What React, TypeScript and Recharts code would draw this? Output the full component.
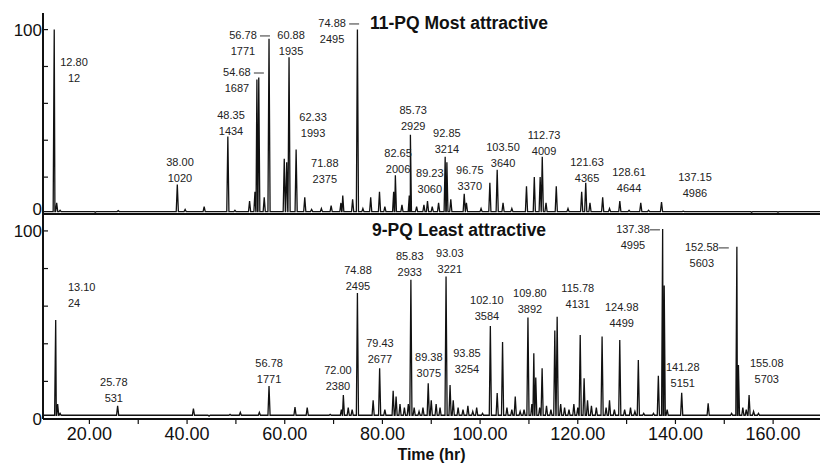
import React from "react";
import {
  ComposedChart,
  Line,
  Scatter,
  XAxis,
  YAxis,
  Label,
} from "recharts";

// peak retention times (hr) and relative abundance (%)
const topPeakTimes = [
  12.72, 12.8, 13.3, 14.0, 21.2, 25.9, 35.1, 38.0, 39.6, 43.5, 48.35, 49.8,
  52.8, 53.9, 54.3, 54.68, 55.8, 56.78, 59.9, 60.4, 60.88, 62.33, 64.1, 65.5,
  67.5, 69.5, 71.5, 71.88, 73.9, 74.88, 76.0, 77.6, 79.4, 80.5, 82.3, 82.65,
  84.0, 85.5, 85.73, 87.0, 88.5, 89.23, 90.2, 91.5, 92.85, 93.2, 94.0, 96.75,
  97.2, 100.2, 102.0, 103.5, 104.7, 106.5, 109.5, 111.1, 112.3, 112.73, 113.5,
  115.6, 118.0, 120.8, 121.63, 122.5, 125.1, 126.5, 128.61, 130.5, 132.9,
  134.5, 137.15, 141.6, 155.6, 161.0,
];
const topPeakHeights = [
  66, 100, 6, 2, 1, 1.8, 1.3, 16, 2.5, 4, 42, 2,
  7, 12, 73, 74, 9, 95, 30, 28, 85, 35, 9, 2.5,
  3, 4.5, 6, 10, 8, 100, 3, 9, 12, 4, 12, 21,
  5, 10, 43, 4, 5, 7, 4, 6, 31, 28, 8, 11,
  6, 3, 17, 24, 6, 3, 15, 20, 20, 31, 6,
  15, 3, 12, 17, 6, 9, 3, 7, 2, 6,
  2, 6.5, 1.5, 1, 1,
];

const bottomPeakTimes = [
  13.0, 13.1, 13.5, 14.0, 15.4, 25.78, 41.3, 44.5, 48.8, 50.9, 54.8, 56.78,
  62.1, 64.6, 69.3, 71.6, 72.0, 73.0, 73.8, 74.88, 78.1, 79.43, 80.5, 82.2,
  82.8, 83.6, 84.5, 85.3, 85.83, 86.5, 87.5, 88.3, 89.38, 90.0, 91.0, 91.8,
  93.03, 93.85, 94.5, 95.5, 96.5, 97.5, 98.5, 99.3, 100.5, 102.1, 103.5, 104.6,
  105.5, 106.5, 107.2, 108.2, 109.0, 109.8, 110.6, 111.0, 111.4, 112.2, 112.7,
  113.6, 114.5, 115.3, 115.78, 116.5, 117.3, 118.2, 119.2, 120.0, 120.5, 121.3,
  122.0, 122.8, 123.8, 124.98, 125.8, 126.5, 127.5, 128.6, 129.6, 130.8, 131.7,
  132.4, 133.5, 135.5, 136.5, 137.38, 137.7, 138.3, 139.5, 141.28, 143.5, 145.0,
  146.7, 149.5, 151.5, 152.58, 152.9, 153.8, 154.5, 155.08, 156.0, 157.0, 158.5,
  162.0,
];
const bottomPeakHeights = [
  30, 52.7, 8, 3, 2, 7, 5.5, 1.5, 2.5, 3.5, 3.5, 17.5,
  6.4, 6, 2.5, 5, 12.8, 6, 5, 67, 10, 27, 5, 15,
  12, 8, 6, 8, 74, 6, 4, 6, 19, 10, 8, 6,
  75.7, 18, 10, 6, 5, 7, 4, 6, 3, 49.5, 13.8, 41,
  6, 5, 12, 4, 5, 54, 8, 35, 22, 6, 27,
  7, 5, 47, 54.4, 8, 6, 5, 8, 6, 44.7, 21.6,
  10, 7, 6, 43.8, 6, 10, 5, 42, 5, 6, 4,
  31.4, 3, 3, 23, 101, 71, 5, 2, 14, 2, 2,
  8.3, 2, 3, 91.6, 28.7, 6, 5, 12.8, 4, 3, 2,
  2,
];

// peak annotations: retention time / scan number
const topLabelTimes = [
  "12.80", "38.00", "48.35", "54.68", "56.78", "60.88", "74.88", "62.33",
  "71.88", "82.65", "85.73", "92.85", "89.23", "96.75", "103.50", "112.73",
  "121.63", "128.61", "137.15",
];
const topLabelScans = [
  "12", "1020", "1434", "1687", "1771", "1935", "2495", "1993",
  "2375", "2006", "2929", "3214", "3060", "3370", "3640", "4009",
  "4365", "4644", "4986",
];
const bottomLabelTimes = [
  "13.10", "25.78", "56.78", "72.00", "74.88", "79.43", "85.83", "93.03",
  "89.38", "93.85", "102.10", "109.80", "115.78", "124.98", "137.38",
  "152.58", "141.28", "155.08",
];
const bottomLabelScans = [
  "24", "531", "1771", "2380", "2495", "2677", "2933", "3221",
  "3075", "3254", "3584", "3892", "4131", "4499", "4995",
  "5603", "5151", "5703",
];

// where each annotation sits, in chart units (hr, %)
const topLabelSpots = [
  [16.85, 82.4], [38.55, 28.2], [49.0, 53.7], [50.2, 77.0], [51.45, 97.1],
  [61.3, 97.1], [69.7, 103.6], [65.8, 52.6], [68.2, 27.7], [83.2, 33.1],
  [86.3, 56.4], [93.2, 43.9], [89.7, 22.2], [97.9, 23.9], [104.7, 36.3],
  [113.1, 42.8], [121.9, 28.2], [130.5, 22.8], [144.0, 20.1],
];
const topLeaders = ["54.68", "56.78", "74.88"];
const bottomLabelSpots = [
  [15.6, 70.2], [25.0, 19.7], [56.8, 29.8], [70.9, 26.1], [75.0, 79.3],
  [79.5, 40.4], [85.6, 86.7], [93.8, 88.3], [89.5, 33.0], [97.3, 35.1],
  [101.4, 63.3], [110.2, 67.0], [120.0, 69.7], [129.0, 59.6], [131.3, 101.1],
  [145.4, 91.5], [141.5, 27.7], [158.7, 29.8],
];
const bottomLeaders = ["137.38", "152.58"];

const xTicks = [20, 30, 40, 50, 60, 70, 80, 90, 100, 110, 120, 130, 140, 150, 160];
const yTicks = [0, 10, 20, 30, 40, 50, 60, 70, 80, 90, 100];

const X_DOMAIN: [number, number] = [10.5, 169.6];
const Y_DOMAIN: [number, number] = [0, 109];
const HALF = 0.22;
const FONT = "'Liberation Sans', Arial, Helvetica, sans-serif";

function buildTrace(times: number[], heights: number[], base: number) {
  const pts = [{ t: X_DOMAIN[0] + 0.1, v: base }, { t: X_DOMAIN[1], v: base }];
  times.forEach((t, i) => {
    pts.push({ t: t - HALF, v: base }, { t, v: heights[i] }, { t: t + HALF, v: base });
  });
  return pts.sort((a, b) => a.t - b.t);
}

function buildLabels(times: string[], scans: string[], spots: number[][], leaders: string[]) {
  return times.map((a, i) => ({
    t: spots[i][0],
    v: spots[i][1],
    a,
    b: scans[i],
    lead: leaders.includes(a),
    start: a === "13.10",
  }));
}

const topTrace = buildTrace(topPeakTimes, topPeakHeights, 1.3);
const bottomTrace = buildTrace(bottomPeakTimes, bottomPeakHeights, 2);
const topLabels = buildLabels(topLabelTimes, topLabelScans, topLabelSpots, topLeaders);
const bottomLabels = buildLabels(bottomLabelTimes, bottomLabelScans, bottomLabelSpots, bottomLeaders);

function PeakLabel(props: any) {
  const { cx, cy, payload } = props;
  if (cx == null || cy == null) return null;
  const anchor = payload.start ? "start" : "middle";
  return (
    <g fontFamily={FONT} fontSize={11} fill="#222">
      <text x={cx} y={cy} dy="0.35em" textAnchor={anchor}>
        {payload.a}
      </text>
      <text x={cx} y={cy + 16} dy="0.35em" textAnchor={anchor}>
        {payload.b}
      </text>
      {payload.lead && (
        <line x1={cx + 17} x2={cx + 27} y1={cy + 1} y2={cy + 1} stroke="#333" strokeWidth={1} />
      )}
    </g>
  );
}

function YTick(props: any) {
  const { x, y, payload, raiseZero } = props;
  const v = payload.value;
  const shift = raiseZero && v === 0 ? -5 : 0;
  return (
    <g>
      <line x1={x} x2={x + 5} y1={y} y2={y} stroke="#111" strokeWidth={1.2} />
      {v % 50 === 0 && (
        <text
          x={x - 1}
          y={y + shift}
          dy="0.36em"
          textAnchor="end"
          fontSize={17}
          fontFamily={FONT}
          fill="#111"
        >
          {v}
        </text>
      )}
    </g>
  );
}

function XTick(props: any) {
  const { x, y, payload } = props;
  const v = payload.value;
  if (v % 20 !== 0) return null;
  return (
    <text x={x} y={y} dy="0.71em" textAnchor="middle" fontSize={18} fontFamily={FONT} fill="#111">
      {v.toFixed(2)}
    </text>
  );
}

function Panel({
  trace,
  labels,
  height,
  showTicks,
}: {
  trace: { t: number; v: number }[];
  labels: any[];
  height: number;
  showTicks: boolean;
}) {
  return (
    <ComposedChart
      width={820}
      height={height}
      data={trace}
      margin={{ top: showTicks ? 0 : 13, right: 0, bottom: 0, left: 0 }}
    >
      {!showTicks && (
        <XAxis
          xAxisId="frame"
          orientation="top"
          type="number"
          domain={X_DOMAIN}
          height={0}
          tick={false}
          tickLine={false}
          axisLine={{ stroke: "#111", strokeWidth: 2 }}
        />
      )}
      <XAxis
        dataKey="t"
        type="number"
        domain={X_DOMAIN}
        ticks={xTicks}
        allowDataOverflow
        height={showTicks ? 45 : 10}
        tickSize={5}
        tickMargin={3}
        tickLine={{ stroke: "#111", strokeWidth: 1.2 }}
        axisLine={{ stroke: "#111", strokeWidth: 2 }}
        tick={showTicks ? <XTick /> : false}
      >
        {showTicks && (
          <Label
            value="Time (hr)"
            position="insideBottom"
            offset={4}
            style={{ fontFamily: FONT, fontSize: 16, fontWeight: 700, fill: "#111" }}
          />
        )}
      </XAxis>
      <YAxis
        type="number"
        domain={Y_DOMAIN}
        ticks={yTicks}
        allowDataOverflow
        width={43}
        tickSize={0}
        tickMargin={0}
        tickLine={false}
        axisLine={{ stroke: "#111", strokeWidth: 2 }}
        tick={<YTick raiseZero={!showTicks} />}
      />
      <Line
        dataKey="v"
        type="linear"
        stroke="#111"
        strokeWidth={1.3}
        dot={false}
        isAnimationActive={false}
      />
      <Scatter
        data={labels}
        dataKey="v"
        shape={(p: any) => <PeakLabel {...p} />}
        isAnimationActive={false}
      />
    </ComposedChart>
  );
}

export default function App() {
  return (
    <div
      style={{
        position: "absolute",
        left: 0,
        top: 0,
        width: 820,
        height: 464,
        background: "#fff",
        overflow: "hidden",
      }}
    >
      <div style={{ position: "absolute", left: 0, top: 0 }}>
        <Panel trace={topTrace} labels={topLabels} height={224} showTicks={false} />
      </div>
      <div style={{ position: "absolute", left: 0, top: 214 }}>
        <Panel trace={bottomTrace} labels={bottomLabels} height={250} showTicks />
      </div>
      <svg
        width={820}
        height={464}
        style={{ position: "absolute", left: 0, top: 0, pointerEvents: "none" }}
      >
        <text x={370} y={29} fontFamily={FONT} fontSize={17.5} fontWeight={700} fill="#111">
          11-PQ Most attractive
        </text>
        <text x={372} y={236} fontFamily={FONT} fontSize={17.5} fontWeight={700} fill="#111">
          9-PQ Least attractive
        </text>
      </svg>
    </div>
  );
}
